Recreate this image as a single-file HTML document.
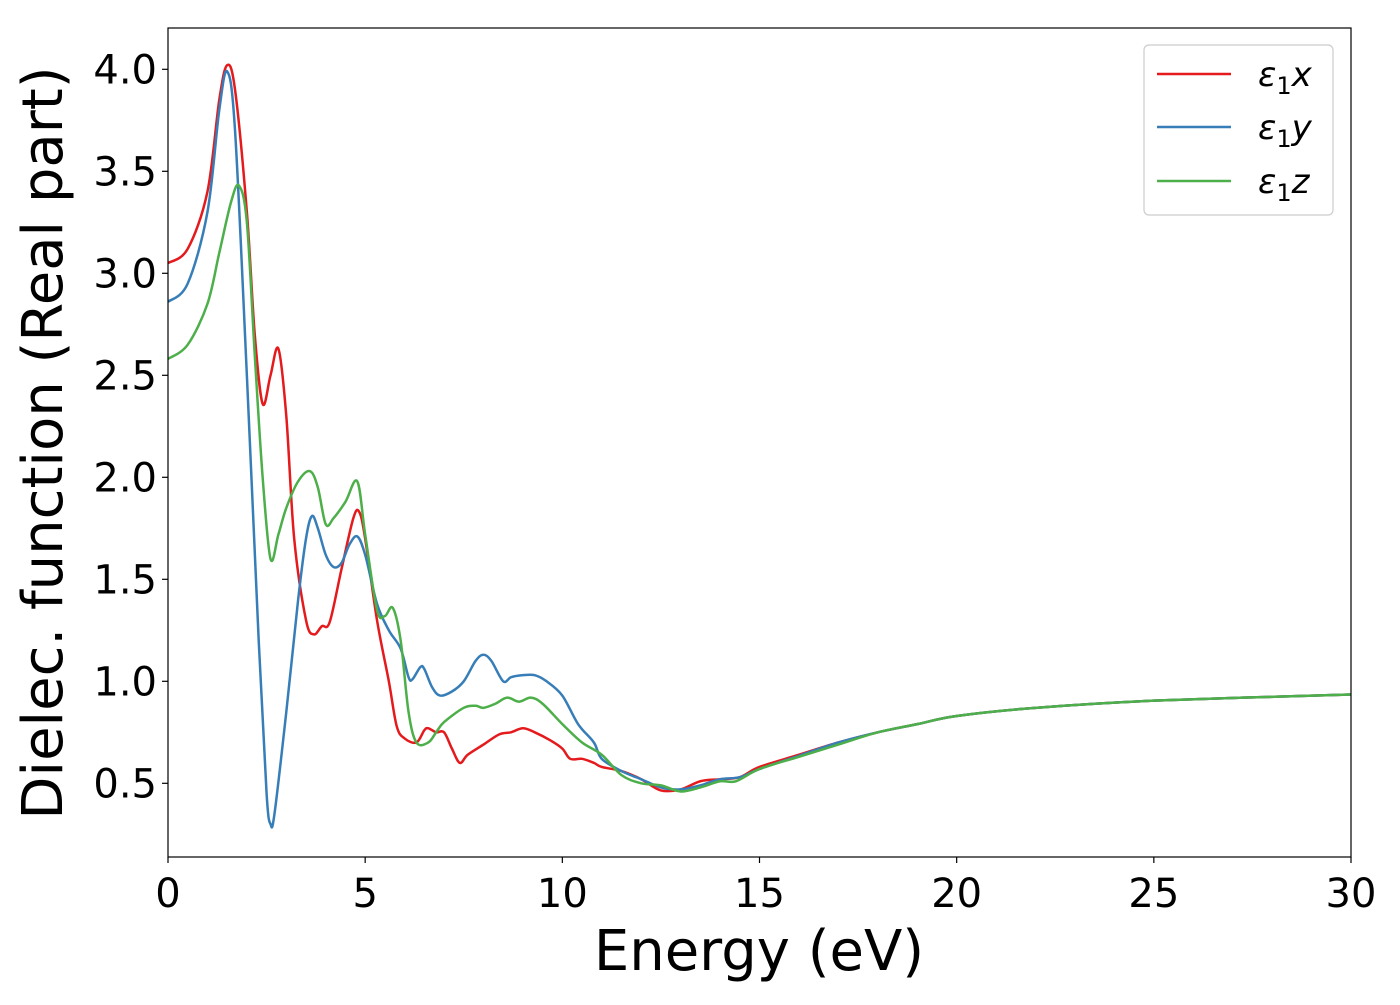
<!DOCTYPE html>
<html><head><meta charset="utf-8"><style>
body{margin:0;background:#fff;}
svg text{font-family:"DejaVu Sans","Liberation Sans",sans-serif;fill:#000;}
</style></head><body>
<svg id="chart" width="1400" height="1000" xmlns="http://www.w3.org/2000/svg">
<g id="plot"></g>
</svg>
<script>
const xTicks=[0,5,10,15,20,25,30];
const yTicks=[0.5,1.0,1.5,2.0,2.5,3.0,3.5,4.0];
const xE=[0,0.5,1.0,1.3,1.5,1.7,2.0,2.2,2.4,2.6,2.8,3.0,3.2,3.5,3.7,3.9,4.1,4.4,4.7,4.85,5.0,5.3,5.6,5.8,6.0,6.3,6.5,6.6,6.8,7.0,7.2,7.4,7.6,8.0,8.4,8.7,9.0,9.3,9.7,10.0,10.2,10.5,10.8,11,11.5,12,12.5,13,13.5,14,14.5,15,16,17,18,19,20,22,25,30];
const yX=[3.05,3.12,3.4,3.85,4.02,3.9,3.3,2.7,2.36,2.5,2.63,2.3,1.7,1.3,1.23,1.27,1.29,1.55,1.8,1.83,1.7,1.3,1.0,0.78,0.72,0.7,0.76,0.77,0.75,0.75,0.67,0.6,0.64,0.69,0.74,0.75,0.77,0.75,0.71,0.67,0.62,0.62,0.6,0.58,0.56,0.52,0.465,0.47,0.51,0.52,0.53,0.58,0.64,0.7,0.75,0.79,0.83,0.87,0.905,0.935];
const xY=[0,0.5,1.0,1.3,1.5,1.7,2.0,2.3,2.5,2.6,2.7,3.0,3.3,3.5,3.65,3.8,4.0,4.2,4.4,4.6,4.8,5.0,5.3,5.6,5.9,6.1,6.2,6.4,6.5,6.7,6.9,7.2,7.5,7.8,8.0,8.2,8.5,8.7,9.0,9.3,9.6,10.0,10.4,10.8,11,11.5,12,12.5,13,13.5,14,14.5,15,16,17,18,19,20,22,25,30];
const yY=[2.86,2.95,3.3,3.8,3.99,3.7,2.5,1.2,0.45,0.3,0.35,0.85,1.4,1.7,1.81,1.75,1.62,1.56,1.58,1.67,1.71,1.62,1.38,1.25,1.16,1.02,1.01,1.07,1.06,0.97,0.93,0.95,1.0,1.1,1.13,1.1,1.0,1.02,1.03,1.03,1.0,0.93,0.79,0.7,0.62,0.56,0.52,0.48,0.47,0.49,0.52,0.53,0.57,0.635,0.7,0.75,0.79,0.83,0.87,0.905,0.935];
const xZ=[0,0.5,1.0,1.3,1.6,1.8,2.0,2.2,2.4,2.6,2.8,3.0,3.3,3.6,3.8,4.0,4.2,4.5,4.8,5.0,5.3,5.5,5.7,5.9,6.1,6.3,6.6,6.8,7.0,7.5,7.8,8.0,8.3,8.6,8.9,9.2,9.5,10,10.5,11,11.5,12,12.5,13,13.5,14,14.4,15,16,17,18,19,20,22,25,30];
const yZ=[2.58,2.65,2.85,3.1,3.35,3.43,3.25,2.6,2.0,1.6,1.72,1.85,1.98,2.03,1.95,1.77,1.8,1.88,1.98,1.72,1.35,1.32,1.36,1.2,0.85,0.7,0.7,0.75,0.8,0.87,0.88,0.87,0.89,0.92,0.9,0.92,0.89,0.79,0.7,0.64,0.54,0.5,0.49,0.46,0.48,0.51,0.51,0.57,0.63,0.69,0.75,0.79,0.83,0.87,0.905,0.935];

const L=168,R=1351,T=28,B=857;
const sx=v=>L+(v-0)/30*(R-L);
const sy=v=>69.3+(4.0-v)*204;
const NS="http://www.w3.org/2000/svg";
const svg=document.getElementById('chart');
function mk(t,a,p){const e=document.createElementNS(NS,t);for(const k in a)e.setAttribute(k,a[k]);(p||svg).appendChild(e);return e;}
const clip=mk('clipPath',{id:'c'});mk('rect',{x:L,y:T,width:R-L,height:B-T},clip);
function path(xs,ys){
 const p=xs.map((x,i)=>[sx(x),sy(ys[i])]);
 let d='M'+p[0][0]+','+p[0][1];
 for(let i=0;i<p.length-1;i++){
  const p0=p[i-1]||p[i],p1=p[i],p2=p[i+1],p3=p[i+2]||p2;
  const c1=[p1[0]+(p2[0]-p0[0])/6,p1[1]+(p2[1]-p0[1])/6];
  const c2=[p2[0]-(p3[0]-p1[0])/6,p2[1]-(p3[1]-p1[1])/6];
  d+=` C${c1[0]},${c1[1]} ${c2[0]},${c2[1]} ${p2[0]},${p2[1]}`;
 }
 return d;
}
const plot=document.getElementById('plot');
const series=[[xX=xE,yX,'#e41a1c','series-e1x'],[xY,yY,'#377eb8','series-e1y'],[xZ,yZ,'#4daf4a','series-e1z']];
series.forEach(s=>{
 const e=mk('path',{d:path(s[0],s[1]),fill:'none',stroke:s[2],'stroke-width':2.5,'clip-path':'url(#c)'},plot);
 
 
});
const frame=mk('rect',{x:L,y:T,width:R-L,height:B-T,fill:'none',stroke:'#000','stroke-width':1.2});


xTicks.forEach(v=>{
 mk('line',{x1:sx(v),x2:sx(v),y1:B,y2:B+6,stroke:'#000','stroke-width':1.2});
 const t=mk('text',{x:sx(v),y:907,'font-size':40,'text-anchor':'middle'});t.textContent=v;
 
 
});
yTicks.forEach(v=>{
 mk('line',{x1:L-6,x2:L,y1:sy(v),y2:sy(v),stroke:'#000','stroke-width':1.2});
 const t=mk('text',{x:157,y:sy(v)+14,'font-size':40,'text-anchor':'end'});t.textContent=v.toFixed(1);
 
 
});
const xt=mk('text',{x:759,y:970,'font-size':56,'text-anchor':'middle'});xt.textContent='Energy (eV)';


const yt=mk('text',{x:0,y:0,'font-size':56,'text-anchor':'middle',transform:'translate(62,443) rotate(-90)'});yt.textContent='Dielec. function (Real part)';


const lg=mk('g',{});


mk('rect',{x:1144,y:45,width:189,height:170,rx:5,fill:'#fff',stroke:'#ccc','stroke-width':1.2},lg);
[['x','#e41a1c',74],['y','#377eb8',127],['z','#4daf4a',181]].forEach(e=>{
 mk('line',{x1:1157,x2:1231,y1:e[2],y2:e[2],stroke:e[1],'stroke-width':2.5},lg);
 const t=mk('text',{x:1258,y:e[2]+12,'font-size':34,'font-style':'italic'},lg);
 t.innerHTML='ε<tspan font-style="normal" font-size="24" dy="8">1</tspan><tspan dy="-8">'+e[0]+'</tspan>';
 
 
});
</script>
</body></html>
